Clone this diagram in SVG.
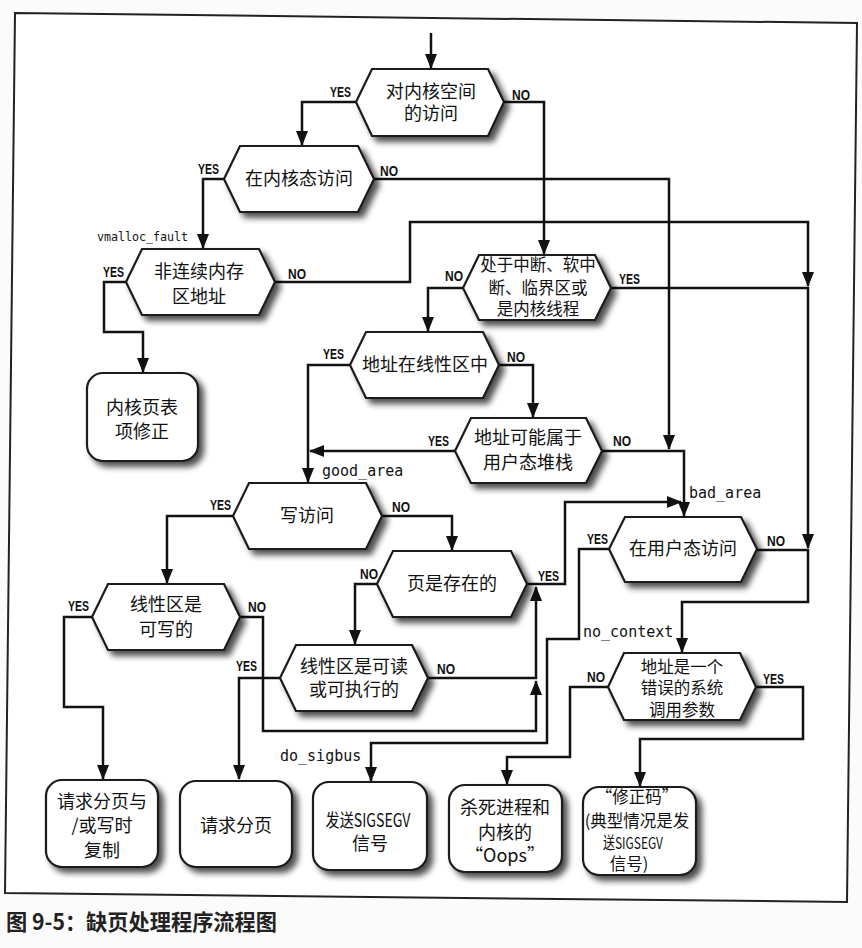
<svg xmlns="http://www.w3.org/2000/svg" width="862" height="948" viewBox="0 0 862 948">
<style>
.hex{fill:#fff;stroke:#1a1a1a;stroke-width:2.2;stroke-linejoin:miter}
.box{fill:#fff;stroke:#1a1a1a;stroke-width:2.2}
.cn{fill:none;stroke:#111;stroke-width:2.5;stroke-linejoin:miter}
.arr{marker-end:url(#ah)}
.t{font-family:"Noto Sans CJK SC","Noto Sans",sans-serif;font-size:18px;fill:#111;text-anchor:middle}
.ts{font-size:16.5px}
.yn{font-family:"Liberation Sans",Arial,sans-serif;font-weight:bold;font-size:15px;fill:#111}
.mono{font-family:"DejaVu Sans Mono","Liberation Mono",monospace;font-size:15px;fill:#111}
.cap{font-family:"Noto Sans CJK SC","Noto Sans",sans-serif;font-weight:bold;font-size:22px;fill:#222}
</style>
<defs>
<marker id="ah" viewBox="0 0 15 12" markerWidth="15" markerHeight="12" refX="14" refY="6" orient="auto" markerUnits="userSpaceOnUse">
<path d="M0,0 L15,6 L0,12 Z" fill="#111"/>
</marker>
<filter id="sh" x="-20%" y="-20%" width="150%" height="160%">
<feGaussianBlur in="SourceAlpha" stdDeviation="3.2"/>
<feOffset dx="5" dy="5" result="b"/>
<feComponentTransfer><feFuncA type="linear" slope="0.7"/></feComponentTransfer>
<feMerge><feMergeNode/><feMergeNode in="SourceGraphic"/></feMerge>
</filter>
</defs>
<rect x="0" y="0" width="862" height="948" fill="#fbfbfb"/>
<polygon points="15,13 857,23 847,902 5,893" fill="#fff" stroke="#222" stroke-width="2"/>

<g id="connectors">
<path class="cn arr" d="M431,33 V68"/>
<path class="cn arr" d="M356,102 H302 V145"/>
<path class="cn arr" d="M504,102 H544 V254"/>
<path class="cn arr" d="M224,179 H203 V248"/>
<path class="cn arr" d="M374,179 H669 V449"/>
<path class="cn arr" d="M126,282 H104 V332 H143 V372"/>
<path class="cn arr" d="M275,282 H410 V222 H808 V286"/>
<path class="cn arr" d="M611,288 H808 V548"/>
<path class="cn arr" d="M463,288 H428 V331"/>
<path class="cn arr" d="M350,365 H308 V482"/>
<path class="cn arr" d="M499,365 H533 V417"/>
<path class="cn arr" d="M455,451 H310"/>
<path class="cn arr" d="M602,451 H684 V516"/>
<path class="cn arr" d="M233,516 H167 V583"/>
<path class="cn arr" d="M382,516 H452 V550"/>
<path class="cn arr" d="M92,617 H64 V707 H103 V779"/>
<path class="cn arr" d="M240,617 H263 V731 H536 V681"/>
<path class="cn arr" d="M377,584 H355 V644"/>
<path class="cn arr" d="M527,584 H565 V502 H681"/>
<path class="cn arr" d="M280,678 H239 V779"/>
<path class="cn arr" d="M428,678 H536 V587"/>
<path class="cn arr" d="M609,549 H579 V639 H547 V743 H371 V781"/>
<path class="cn arr" d="M757,550 H808 V602 H682 V652"/>
<path class="cn arr" d="M608,687 H570 V757 H507 V784"/>
<path class="cn arr" d="M756,687 H803 V739 H640 V786"/>
</g>

<g id="labels">
<text class="yn" x="330" y="97" textLength="21" lengthAdjust="spacingAndGlyphs">YES</text>
<text class="yn" x="512" y="100" textLength="18" lengthAdjust="spacingAndGlyphs">NO</text>
<text class="yn" x="198" y="174" textLength="21" lengthAdjust="spacingAndGlyphs">YES</text>
<text class="yn" x="380" y="176" textLength="18" lengthAdjust="spacingAndGlyphs">NO</text>
<text class="yn" x="103" y="277" textLength="21" lengthAdjust="spacingAndGlyphs">YES</text>
<text class="yn" x="288" y="279" textLength="18" lengthAdjust="spacingAndGlyphs">NO</text>
<text class="yn" x="445" y="281" textLength="18" lengthAdjust="spacingAndGlyphs">NO</text>
<text class="yn" x="619" y="284" textLength="21" lengthAdjust="spacingAndGlyphs">YES</text>
<text class="yn" x="323" y="359" textLength="21" lengthAdjust="spacingAndGlyphs">YES</text>
<text class="yn" x="507" y="362" textLength="18" lengthAdjust="spacingAndGlyphs">NO</text>
<text class="yn" x="428" y="446" textLength="21" lengthAdjust="spacingAndGlyphs">YES</text>
<text class="yn" x="613" y="446" textLength="18" lengthAdjust="spacingAndGlyphs">NO</text>
<text class="yn" x="210" y="510" textLength="21" lengthAdjust="spacingAndGlyphs">YES</text>
<text class="yn" x="392" y="512" textLength="18" lengthAdjust="spacingAndGlyphs">NO</text>
<text class="yn" x="68" y="611" textLength="21" lengthAdjust="spacingAndGlyphs">YES</text>
<text class="yn" x="248" y="612" textLength="18" lengthAdjust="spacingAndGlyphs">NO</text>
<text class="yn" x="360" y="579" textLength="18" lengthAdjust="spacingAndGlyphs">NO</text>
<text class="yn" x="538" y="581" textLength="21" lengthAdjust="spacingAndGlyphs">YES</text>
<text class="yn" x="236" y="671" textLength="21" lengthAdjust="spacingAndGlyphs">YES</text>
<text class="yn" x="437" y="674" textLength="18" lengthAdjust="spacingAndGlyphs">NO</text>
<text class="yn" x="587" y="544" textLength="21" lengthAdjust="spacingAndGlyphs">YES</text>
<text class="yn" x="767" y="546" textLength="18" lengthAdjust="spacingAndGlyphs">NO</text>
<text class="yn" x="587" y="682" textLength="18" lengthAdjust="spacingAndGlyphs">NO</text>
<text class="yn" x="763" y="684" textLength="21" lengthAdjust="spacingAndGlyphs">YES</text>
<text class="mono" x="97" y="241" style="font-size:12.5px" textLength="91" lengthAdjust="spacingAndGlyphs">vmalloc_fault</text>
<text class="mono" x="322" y="476">good_area</text>
<text class="mono" x="689" y="498">bad_area</text>
<text class="mono" x="583" y="637">no_context</text>
<text class="mono" x="280" y="761">do_sigbus</text>
</g>

<g id="n1"><polygon class="hex" filter="url(#sh)" points="356,102 372,69 488,69 504,102 488,136 372,136"/>
<text class="t" x="431" y="98">对内核空间</text><text class="t" x="431" y="120">的访问</text></g>
<g id="n2"><polygon class="hex" filter="url(#sh)" points="224,179 240,146 358,146 374,179 358,212 240,212"/>
<text class="t" x="299" y="185">在内核态访问</text></g>
<g id="n3"><polygon class="hex" filter="url(#sh)" points="126,282 142,249 259,249 275,282 259,315 142,315"/>
<text class="t" x="199" y="278">非连续内存</text><text class="t" x="199" y="303">区地址</text></g>
<g id="n4"><polygon class="hex" filter="url(#sh)" points="463,288 479,255 595,255 611,288 595,320 479,320"/>
<text class="t ts" x="538" y="271">处于中断、软中</text><text class="t ts" x="538" y="294">断、临界区或</text><text class="t ts" x="538" y="315">是内核线程</text></g>
<g id="n5"><polygon class="hex" filter="url(#sh)" points="350,365 366,332 483,332 499,365 483,398 366,398"/>
<text class="t" x="425" y="371">地址在线性区中</text></g>
<g id="n6"><polygon class="hex" filter="url(#sh)" points="455,451 471,418 586,418 602,451 586,483 471,483"/>
<text class="t" x="528" y="444">地址可能属于</text><text class="t" x="528" y="469">用户态堆栈</text></g>
<g id="n7"><polygon class="hex" filter="url(#sh)" points="233,516 249,483 366,483 382,516 366,549 249,549"/>
<text class="t" x="307" y="522">写访问</text></g>
<g id="n8"><polygon class="hex" filter="url(#sh)" points="92,617 108,584 224,584 240,617 224,650 108,650"/>
<text class="t" x="166" y="611">线性区是</text><text class="t" x="166" y="636">可写的</text></g>
<g id="n9"><polygon class="hex" filter="url(#sh)" points="377,584 393,551 511,551 527,584 511,617 393,617"/>
<text class="t" x="452" y="590">页是存在的</text></g>
<g id="n10"><polygon class="hex" filter="url(#sh)" points="280,678 296,645 412,645 428,678 412,711 296,711"/>
<text class="t" x="354" y="673">线性区是可读</text><text class="t" x="354" y="696">或可执行的</text></g>
<g id="n11"><polygon class="hex" filter="url(#sh)" points="609,549 625,517 741,517 757,549 741,582 625,582"/>
<text class="t" x="683" y="555">在用户态访问</text></g>
<g id="n12"><polygon class="hex" filter="url(#sh)" points="608,687 624,653 740,653 756,687 740,720 624,720"/>
<text class="t ts" x="682" y="673">地址是一个</text><text class="t ts" x="682" y="694">错误的系统</text><text class="t ts" x="682" y="716">调用参数</text></g>

<g id="b1"><rect class="box" filter="url(#sh)" x="87" y="373" width="111" height="88" rx="16"/>
<text class="t" x="142" y="414">内核页表</text><text class="t" x="142" y="438">项修正</text></g>
<g id="b2"><rect class="box" filter="url(#sh)" x="46" y="780" width="112" height="87" rx="16"/>
<text class="t" x="102" y="808">请求分页与</text><text class="t" x="102" y="832">/或写时</text><text class="t" x="102" y="857">复制</text></g>
<g id="b3"><rect class="box" filter="url(#sh)" x="180" y="781" width="112" height="86" rx="16"/>
<text class="t" x="236" y="832">请求分页</text></g>
<g id="b4"><rect class="box" filter="url(#sh)" x="313" y="782" width="114" height="88" rx="16"/>
<text class="t" x="368" y="827" textLength="85" lengthAdjust="spacingAndGlyphs">发送SIGSEGV</text><text class="t" x="370" y="850">信号</text></g>
<g id="b5"><rect class="box" filter="url(#sh)" x="449" y="785" width="113" height="87" rx="16"/>
<text class="t" x="505" y="814">杀死进程和</text><text class="t" x="505" y="839">内核的</text><text class="t" x="505" y="862">“Oops”</text></g>
<g id="b6"><rect class="box" filter="url(#sh)" x="583" y="787" width="113" height="88" rx="16"/>
<text class="t ts" x="637" y="803">“修正码”</text><text class="t ts" x="637" y="827">(典型情况是发</text><text class="t ts" x="633" y="849" textLength="60" lengthAdjust="spacingAndGlyphs">送SIGSEGV</text><text class="t ts" x="629" y="870">信号)</text></g>

<text class="cap" x="6" y="930" textLength="271" lengthAdjust="spacingAndGlyphs">图 9-5：缺页处理程序流程图</text>
</svg>
